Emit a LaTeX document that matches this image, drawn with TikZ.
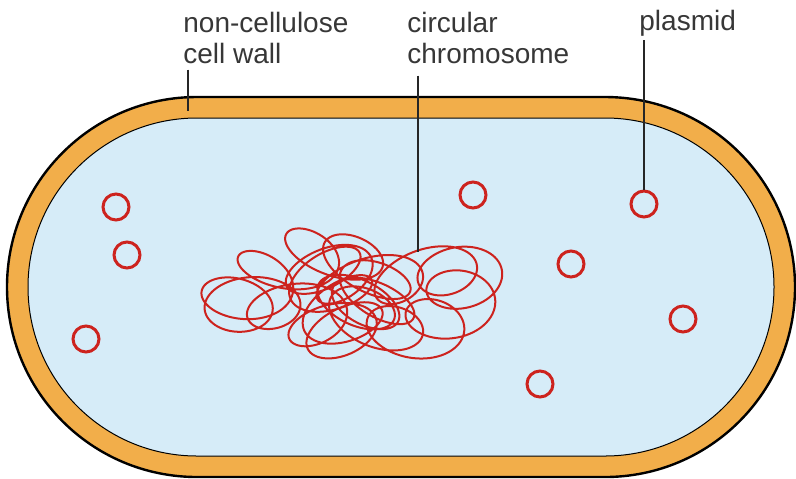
\documentclass[tikz,border=0pt]{standalone}
\usepackage{fontspec}
\setmainfont{Liberation Sans}
\usepackage{tikz}
\usetikzlibrary{positioning, calc}
\definecolor{wallorange}{RGB}{242,174,74}
\definecolor{cytoblue}{RGB}{214,236,248}
\definecolor{dnared}{RGB}{205,35,30}
\definecolor{notegray}{RGB}{55,55,55}

\begin{document}
\begin{tikzpicture}[
    x=0.5pt, y=-0.5pt,    % one unit per pixel, y runs downwards
    note/.style={anchor=base west, align=left, inner sep=0pt, text=notegray,
                 font=\fontsize{14pt}{15.5pt}\selectfont},
    leader/.style={draw=black!85, line width=0.75pt},
    plasmidring/.style={circle, draw=dnared, line width=1.5pt,
                        minimum size=13pt, inner sep=0pt}
]

\fill[white] (0,0) rectangle (796,478);
\useasboundingbox (0,0) rectangle (796,478);

% cell wall and cytoplasm
\draw[fill=wallorange, line width=1.2pt, rounded corners=94.99pt] (7,97) rectangle (795,477);
\draw[fill=cytoblue, line width=0.5pt, rounded corners=84.49pt] (28,118) rectangle (774,456);

% tangled loop of DNA: a wandering centre line with loops laid along it
\draw[dnared, line width=1pt, line join=round]
    plot[domain=0:360, samples=1500, variable=\t]
    ({350 + 75*cos(\t) + 42*cos(3*\t+40)
          + 38*cos(21*\t + 60*sin(3*\t))},
     {295 + 28*sin(2*\t+20) + 14*sin(5*\t)
          + 26*sin(21*\t + 60*sin(3*\t) + 30*sin(\t))});

% plasmids
\foreach \px/\py [count=\i] in {116/207, 127/255, 86/339, 473/195,
                                644/204, 571/264, 683/319, 540/384}
    \node[plasmidring] (p\i) at (\px,\py) {};

% last baseline sits on the anchor
\node[note] (wallnote) at (183,63) {non-cellulose\\cell wall};
\node[note] (chromnote) at (407,63) {circular\\chromosome};
\node[note] (plasmidnote) at (639,30) {plasmid};

\coordinate (wallpt) at (188,111);
\coordinate (chrompt) at (418,252);

\draw[leader] ([yshift=-3pt]wallnote.south -| wallpt) -- (wallpt);
\draw[leader] ([yshift=-6pt]chromnote.south -| chrompt) -- (chrompt);
\draw[leader] ([yshift=-2pt]plasmidnote.south -| p5.north) -- (p5.north);

\end{tikzpicture}
\end{document}
